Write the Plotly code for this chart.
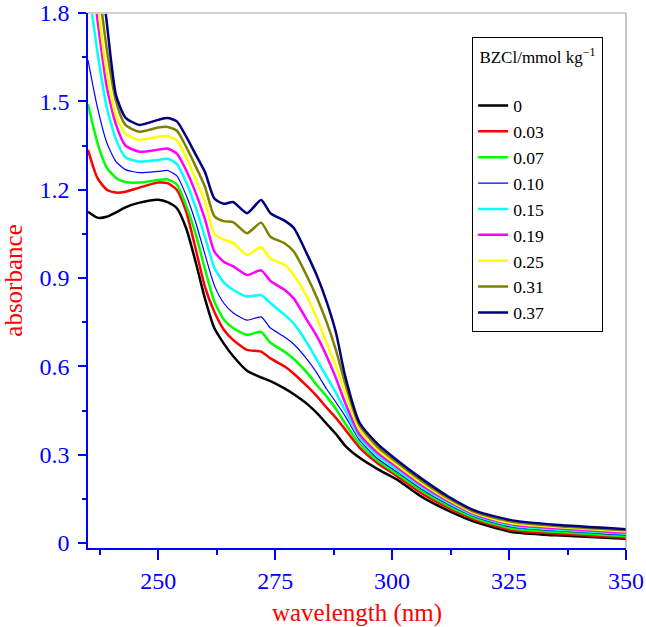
import plotly.graph_objects as go

wavelength = [235, 237, 239, 241, 243, 246, 250, 252, 254, 256, 258, 260, 262, 264, 266, 269,
              272, 274, 277, 279, 282, 284, 286, 288, 290, 293, 297, 301, 306, 312, 318, 326, 335, 350]

conc_labels = ["0", "0.03", "0.07", "0.10", "0.15", "0.19", "0.25", "0.31", "0.37"]

abs_0 = [1.125, 1.105, 1.108, 1.123, 1.14, 1.156, 1.166, 1.158, 1.137, 1.068, 0.955, 0.83, 0.73, 0.678, 0.635, 0.585,
         0.562, 0.55, 0.525, 0.505, 0.47, 0.44, 0.405, 0.37, 0.33, 0.29, 0.25, 0.216, 0.16, 0.11, 0.07, 0.036, 0.026, 0.014]
abs_003 = [1.335, 1.24, 1.2, 1.19, 1.193, 1.207, 1.224, 1.222, 1.199, 1.125, 1.0, 0.87, 0.785, 0.725, 0.69, 0.656,
           0.65, 0.627, 0.6, 0.575, 0.53, 0.497, 0.46, 0.425, 0.385, 0.325, 0.27, 0.228, 0.172, 0.12, 0.078, 0.042, 0.032, 0.018]
abs_007 = [1.49, 1.36, 1.275, 1.24, 1.226, 1.224, 1.233, 1.235, 1.217, 1.145, 1.05, 0.93, 0.82, 0.76, 0.73, 0.707,
           0.717, 0.68, 0.65, 0.625, 0.575, 0.535, 0.498, 0.455, 0.405, 0.338, 0.278, 0.235, 0.18, 0.126, 0.083, 0.048, 0.038, 0.023]
abs_010 = [1.64, 1.48, 1.36, 1.295, 1.268, 1.258, 1.262, 1.265, 1.247, 1.18, 1.09, 0.98, 0.875, 0.815, 0.782, 0.757,
           0.768, 0.73, 0.70, 0.675, 0.62, 0.575, 0.523, 0.478, 0.43, 0.35, 0.285, 0.242, 0.186, 0.131, 0.087, 0.053, 0.042, 0.027]
abs_015 = [1.9, 1.67, 1.48, 1.37, 1.31, 1.295, 1.301, 1.305, 1.287, 1.225, 1.14, 1.04, 0.935, 0.885, 0.86, 0.837,
           0.842, 0.815, 0.775, 0.745, 0.675, 0.62, 0.565, 0.51, 0.45, 0.36, 0.295, 0.25, 0.193, 0.137, 0.091, 0.058, 0.046, 0.031]
abs_019 = [2.05, 1.78, 1.55, 1.42, 1.35, 1.329, 1.336, 1.34, 1.322, 1.265, 1.19, 1.10, 0.99, 0.955, 0.94, 0.91,
           0.926, 0.89, 0.86, 0.83, 0.752, 0.70, 0.635, 0.56, 0.475, 0.37, 0.305, 0.258, 0.2, 0.142, 0.095, 0.062, 0.05, 0.035]
abs_025 = [2.25, 1.85, 1.6, 1.45, 1.39, 1.369, 1.38, 1.382, 1.367, 1.31, 1.235, 1.16, 1.05, 1.03, 1.02, 0.978,
           1.005, 0.965, 0.945, 0.91, 0.83, 0.76, 0.68, 0.60, 0.51, 0.385, 0.315, 0.266, 0.207, 0.147, 0.099, 0.066, 0.054, 0.039]
abs_031 = [2.4, 1.95, 1.68, 1.5, 1.42, 1.397, 1.411, 1.413, 1.40, 1.345, 1.28, 1.21, 1.11, 1.093, 1.09, 1.052,
           1.088, 1.04, 1.018, 0.99, 0.90, 0.83, 0.75, 0.655, 0.54, 0.40, 0.325, 0.274, 0.214, 0.152, 0.103, 0.071, 0.058, 0.043]
abs_037 = [2.6, 2.05, 1.77, 1.52, 1.445, 1.42, 1.437, 1.443, 1.432, 1.38, 1.32, 1.26, 1.17, 1.152, 1.158, 1.12,
           1.165, 1.12, 1.095, 1.07, 0.975, 0.905, 0.82, 0.715, 0.565, 0.41, 0.335, 0.282, 0.222, 0.158, 0.108, 0.076, 0.062, 0.047]

series = [abs_0, abs_003, abs_007, abs_010, abs_015, abs_019, abs_025, abs_031, abs_037]
colors = ["#000000", "#ff0000", "#00ff00", "#0000ff", "#00ffff", "#ff00ff", "#ffff00", "#808000", "#000080"]
widths = [2.5, 2.5, 2.5, 1.2, 2.5, 2.5, 2.5, 2.5, 2.5]

x_ticks = [250, 275, 300, 325, 350]
y_ticks = [0, 0.3, 0.6, 0.9, 1.2, 1.5, 1.8]
y_tick_text = ["0", "0.3", "0.6", "0.9", "1.2", "1.5", "1.8"]

fig = go.Figure()
for lab, vals, col, w in zip(conc_labels, series, colors, widths):
    fig.add_trace(go.Scatter(x=wavelength, y=vals, mode="lines", name=lab,
                             line=dict(color=col, width=w, shape="spline", smoothing=0.6)))

serif = "Liberation Serif, Times New Roman, serif"
fig.update_layout(
    width=646, height=627,
    margin=dict(l=88, r=20, t=13, b=79),
    plot_bgcolor="white", paper_bgcolor="white",
    font=dict(family=serif),
    showlegend=True,
    legend=dict(
        x=0.714, y=0.955, xanchor="left", yanchor="top",
        bgcolor="white", bordercolor="black", borderwidth=1,
        font=dict(family=serif, size=17.6, color="black"),
        title=dict(text="<span style='font-size:17px'>&nbsp;BZCl/mmol kg<sup>−1</sup>&nbsp;</span><br> ",
                   font=dict(family=serif, size=19, color="black")),
    ),
    shapes=[
        dict(type="line", xref="paper", yref="paper", x0=0, x1=1, y0=1, y1=1,
             line=dict(color="#d0d0d0", width=2)),
        dict(type="line", xref="paper", yref="paper", x0=1, x1=1, y0=0, y1=1,
             line=dict(color="#909090", width=1)),
    ],
)
fig.update_xaxes(
    range=[235, 350], tickvals=x_ticks, ticktext=[str(v) for v in x_ticks],
    automargin=False, ticklabeloverflow="allow",
    showgrid=False, zeroline=False, showline=True, linecolor="#0000ff", linewidth=1.5,
    ticks="outside", ticklen=10, tickwidth=1.5, tickcolor="#0000ff",
    tickfont=dict(family=serif, size=24, color="#0000ff"),
    minor=dict(tickvals=[237.5, 262.5, 287.5, 312.5, 337.5], ticks="outside", ticklen=5, tickcolor="#0000ff", tickwidth=1.5),
    title=dict(text="wavelength (nm)", font=dict(family=serif, size=25, color="#ff0000"), standoff=13),
)
fig.update_yaxes(
    range=[-0.017, 1.8], tickvals=y_ticks, ticktext=y_tick_text,
    automargin=False, ticklabeloverflow="allow",
    showgrid=False, zeroline=False, showline=True, linecolor="#0000ff", linewidth=1.5,
    ticks="outside", ticklen=8, tickwidth=1.5, tickcolor="#0000ff", ticklabelstandoff=4,
    tickfont=dict(family=serif, size=24, color="#0000ff"),
    minor=dict(tickvals=[0.15, 0.45, 0.75, 1.05, 1.35, 1.65], ticks="outside", ticklen=4, tickcolor="#0000ff", tickwidth=1.5),
    title=dict(text="absorbance", font=dict(family=serif, size=25, color="#ff0000"), standoff=18),
)

fig.write_html("out.html", config={"displayModeBar": False},
               post_script="document.body.style.margin='0';")
